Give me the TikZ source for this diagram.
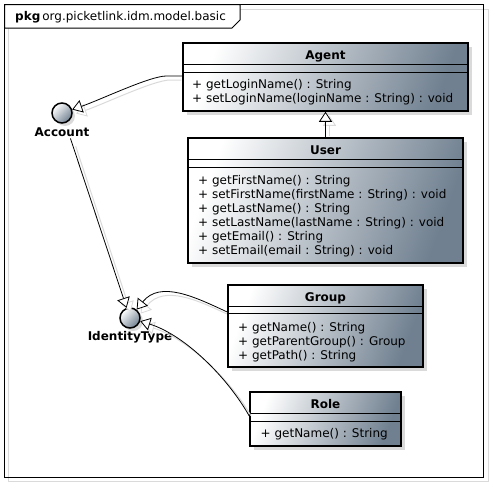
\documentclass[tikz,border=0pt]{standalone}
\usepackage{fontspec}
\setmainfont{DejaVu Sans}
\usetikzlibrary{positioning}
\usetikzlibrary{arrows.meta}
\usetikzlibrary{shadows}

\definecolor{slate}{HTML}{708090}
\definecolor{shadowgrey}{HTML}{DADADA}

\begin{document}
\begin{tikzpicture}[x=1pt, y=-1pt]
	\tikzset{
		classnode/.style={rectangle, draw=black, line width=1.5pt, inner sep=0pt, left color=white, right color=slate, shading angle=70, drop shadow={shadow xshift=4pt, shadow yshift=-4pt, fill=shadowgrey, opacity=1}},
		ifacenode/.style={circle, draw=black, line width=1.5pt, inner sep=0pt, minimum size=20pt, left color=white, right color=slate, shading angle=45, drop shadow={shadow xshift=3pt, shadow yshift=-3pt, fill=shadowgrey, opacity=1}},
		nametext/.style={anchor=base, inner sep=0pt, font=\fontsize{12}{14}\selectfont\bfseries},
		optext/.style={anchor=north west, align=left, inner sep=0pt, font=\fontsize{12}{14}\selectfont},
		divider/.style={draw=black, line width=1pt},
		genarrow/.style={line width=0.8pt, -{Triangle[length=10pt, width=13pt, fill=white, line width=0.8pt]}},
		edgeshadow/.style={preaction={draw=shadowgrey, line width=1pt, shorten <=#1, transform canvas={shift={(4pt,-4pt)}}}},
		edgeshadow/.default=5pt,
	}
	\useasboundingbox (0,0) rectangle (495,488);

	% package frame
	\draw[shadowgrey, line width=1pt] (8.5,9) rectangle (488,481);
	\draw[line width=1pt] (4.5,4.5) rectangle (483,477);
	\draw[line width=1pt, fill=white] (4.5,4.5) -- (240,4.5) -- (240,20) -- (232,28) -- (4.5,28) -- cycle;
	\node[anchor=base west, inner sep=0pt, font=\fontsize{12}{14}\selectfont] (pkgname) at (15,20.5) {\textbf{pkg}\hspace{2pt}org.picketlink.idm.model.basic};

	% classes
	\node[classnode, minimum width=285pt, minimum height=68pt] (agent) at (325.5,77) {};
	\node[nametext] (agentname) at (325.5,59) {Agent};
	\draw[divider] (agent.west |- 0,64) -- (agent.east |- 0,64);
	\draw[divider] (agent.west |- 0,72) -- (agent.east |- 0,72);
	\node[optext] (agentops) at (192,79.4) {+ getLoginName() : String\\+ setLoginName(loginName : String) : void};

	\node[classnode, minimum width=275pt, minimum height=125pt] (user) at (325.5,200.5) {};
	\node[nametext] (username) at (325.5,154) {User};
	\draw[divider] (user.west |- 0,159) -- (user.east |- 0,159);
	\draw[divider] (user.west |- 0,167) -- (user.east |- 0,167);
	\node[optext] (userops) at (198,175.3) {+ getFirstName() : String\\+ setFirstName(firstName : String) : void\\+ getLastName() : String\\+ setLastName(lastName : String) : void\\+ getEmail() : String\\+ setEmail(email : String) : void};

	\node[classnode, minimum width=195pt, minimum height=82pt] (group) at (325.5,326) {};
	\node[nametext] (groupname) at (325.5,301) {Group};
	\draw[divider] (group.west |- 0,306) -- (group.east |- 0,306);
	\draw[divider] (group.west |- 0,313) -- (group.east |- 0,313);
	\node[optext] (groupops) at (238,321.9) {+ getName() : String\\+ getParentGroup() : Group\\+ getPath() : String};

	\node[classnode, minimum width=151pt, minimum height=54pt] (role) at (325.5,419) {};
	\node[nametext] (rolename) at (325.5,408.3) {Role};
	\draw[divider] (role.west |- 0,413) -- (role.east |- 0,413);
	\draw[divider] (role.west |- 0,421) -- (role.east |- 0,421);
	\node[optext] (roleops) at (260.5,428.6) {+ getName() : String};

	% interfaces
	\node[ifacenode] (account) at (62,113) {};
	\node[nametext] (accountname) at (62,136) {Account};
	\node[ifacenode] (idtype) at (130,318) {};
	\node[nametext] (idtypename) at (130,340.5) {IdentityType};

	% generalisations
	\draw[genarrow, edgeshadow] (user.north) -- (agent.south);
	\draw[genarrow, edgeshadow] ([yshift=1pt]agent.west) -- ++(-16,0) .. controls (150,76) and (100,100) .. (account);
	\draw[genarrow, edgeshadow=20pt, shorten <=16pt] (account) -- (idtype);
	\draw[genarrow, edgeshadow] ([yshift=14pt]group.west) .. controls (195,297) and (160,280) .. (idtype);
	\draw[genarrow, edgeshadow] ([yshift=3pt]role.west) .. controls (228,378) and (185,335) .. (idtype);
\end{tikzpicture}
\end{document}
